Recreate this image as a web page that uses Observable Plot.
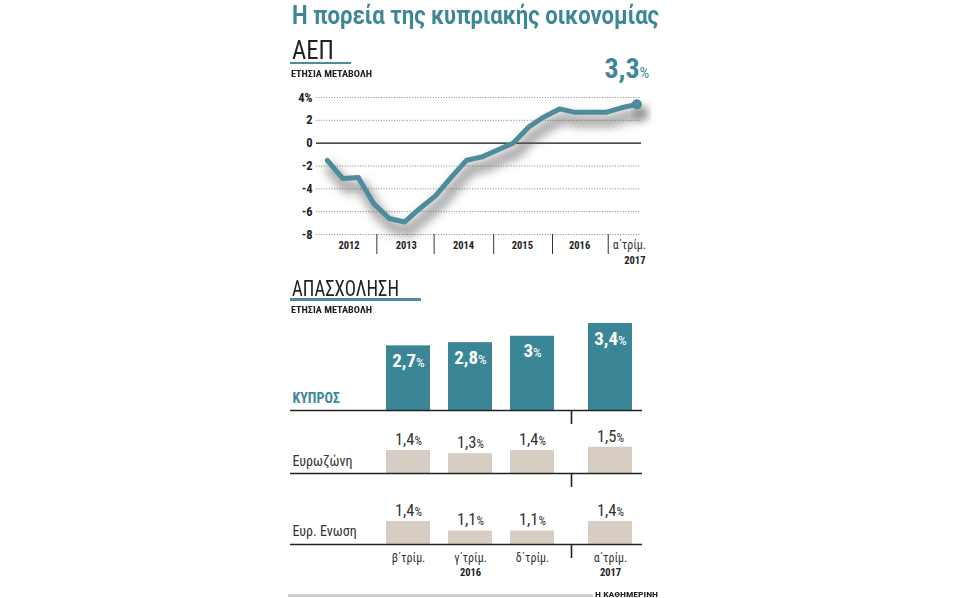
<!DOCTYPE html>
<html><head><meta charset="utf-8">
<script src="https://cdn.jsdelivr.net/npm/d3@7"></script>
<script src="https://cdn.jsdelivr.net/npm/@observablehq/plot@0.6"></script>
<style>
body{margin:0;background:#fff;}
#root{position:relative;width:958px;height:598px;overflow:hidden;}
.abs{position:absolute;white-space:nowrap;transform-origin:left top;line-height:1.15;}
svg{overflow:visible;}
</style></head><body><div id="root"></div>
<script>
// ---------- DATA ----------
const gdpGrowth = [-1.5, -3.1, -3.0, -5.3, -6.6, -6.9, -5.7, -4.6, -3.0, -1.5, -1.2, -0.6, 0.0, 1.4, 2.3, 3.0, 2.7, 2.7, 2.7, 3.1, 3.4];
const gdpYTicks = [4, 2, 0, -2, -4, -6, -8];
const gdpYearLabels = ["2012", "2013", "2014", "2015", "2016"];
const gdpYearLabelPos = [1.4, 5.1, 8.8, 12.6, 16.3];
const gdpYearSepPos = [3.2, 6.9, 10.75, 14.55, 18.15];
const gdpLastLabel = ["α΄τρίμ.", "2017"];
const gdpLatestText = "3,3";

const barQuarters = ["β΄τρίμ.", "γ΄τρίμ.", "δ΄τρίμ.", "α΄τρίμ."];
const barYears = [2016, 2016, 2016, 2017];
const barYearLabels = ["", "2016", "", "2017"];
const cyprus = [2.7, 2.8, 3.0, 3.4];
const eurozone = [1.4, 1.3, 1.4, 1.5];
const eu = [1.4, 1.1, 1.1, 1.4];
const rowNames = ["ΚΥΠΡΟΣ", "Ευρωζώνη", "Ευρ. Ενωση"];

// ---------- STYLE ----------
const FONT = '"Liberation Sans Narrow","Roboto Condensed",Roboto,sans-serif';
const C = {teal: "#3d8797", line: "#4e8c9d", bar: "#3b8696", beige: "#d8cdc3", ink: "#222"};
const root = document.getElementById("root");

function txt(s, o) {
  const el = document.createElement("div");
  el.className = "abs";
  el.textContent = s;
  Object.assign(el.style, {left: o.left + "px", top: o.top + "px", fontSize: o.size + "px",
    fontWeight: o.weight || "normal", color: o.color || C.ink, fontFamily: o.family || FONT});
  root.appendChild(el);
  if (o.width) {
    const w = el.getBoundingClientRect().width;
    el.style.transform = `scaleX(${o.width / w})`;
  }
  return el;
}
function box(l, t, w, h, c) {
  const el = document.createElement("div");
  el.className = "abs";
  Object.assign(el.style, {left: l + "px", top: t + "px", width: w + "px", height: h + "px", background: c});
  root.appendChild(el);
}
function place(svg, l, t) {
  svg.style.position = "absolute"; svg.style.left = l + "px"; svg.style.top = t + "px";
  root.appendChild(svg);
}
function pctify(svg, ratio) {
  d3.select(svg).selectAll("g.pct text").each(function () {
    const t = d3.select(this); const s = t.text(); t.text(s);
    t.append("tspan").attr("font-size", ratio + "em").attr("font-weight", "normal").text("%");
  });
}
const fmt = v => String(v).replace(".", ",");

// ---------- HEADINGS ----------
txt("Η πορεία της κυπριακής οικονομίας", {left: 291.5, top: 0.5, size: 25.5, weight: "bold", color: C.teal, width: 367, family: 'Roboto, "Liberation Sans", sans-serif'});
txt("ΑΕΠ", {left: 291.5, top: 36.5, size: 25, width: 42});
box(290, 61.5, 61, 2.5, C.line);
txt("ΕΤΗΣΙΑ ΜΕΤΑΒΟΛΗ", {left: 291, top: 68.8, size: 9, weight: "bold", width: 81});
txt("ΑΠΑΣΧΟΛΗΣΗ", {left: 291.5, top: 275.5, size: 22, width: 107});
box(290, 298, 131, 2.5, C.line);
txt("ΕΤΗΣΙΑ ΜΕΤΑΒΟΛΗ", {left: 291, top: 304.8, size: 9, weight: "bold", width: 81});
box(288, 593.5, 305, 3, "#cfcfcf");
txt("Η ΚΑΘΗΜΕΡΙΝΗ", {left: 595, top: 589.5, size: 8, weight: "bold", width: 63});

// ---------- GDP LINE ----------
const gdpData = gdpGrowth.map((v, i) => ({i, v}));
const last = gdpData[gdpData.length - 1];
const lineSvg = Plot.plot({
  width: 380, height: 190, marginLeft: 36, marginRight: 19, marginTop: 12, marginBottom: 41,
  style: {fontFamily: FONT, background: "transparent", overflow: "visible"},
  x: {domain: [-0.7, 20.3], axis: null, label: null},
  y: {domain: [-8, 4], axis: null, label: null},
  marks: [
    Plot.ruleY(gdpYTicks.filter(d => d !== 0), {stroke: "#777", strokeDasharray: "1,1.6", strokeWidth: 0.9}),
    Plot.ruleY([0], {stroke: "#111", strokeWidth: 1.4}),
    Plot.axisY(gdpYTicks, {anchor: "left", tickSize: 0, tickPadding: 4, label: null,
      tickFormat: d => d === 4 ? "4%" : String(d), fontSize: 12.5, fontWeight: "bold", fill: "#222"}),
    Plot.axisX(gdpYearSepPos, {anchor: "bottom", tickSize: 20, tickFormat: () => "", label: null, stroke: "#333"}),
    Plot.text(gdpYearLabels, {x: (d, i) => gdpYearLabelPos[i], text: d => d, frameAnchor: "bottom", dy: 14,
      fontSize: 10.5, fontWeight: "bold", fill: "#222"}),
    Plot.text([last], {x: "i", frameAnchor: "bottom", text: () => gdpLastLabel[0], dx: -7.5, dy: 14, fontSize: 12, fill: "#333"}),
    Plot.text([last], {x: "i", frameAnchor: "bottom", text: () => gdpLastLabel[1], dx: -2, dy: 29, fontSize: 10.5, fontWeight: "bold", fill: "#222"}),
    Plot.line(gdpData, {x: "i", y: "v", stroke: "#555", strokeWidth: 12, strokeOpacity: 0.5, dx: 4, dy: 9, className: "shadow"}),
    Plot.dot([last], {x: "i", y: "v", r: 7, fill: "#555", fillOpacity: 0.5, dx: 4, dy: 9, className: "shadow"}),
    Plot.line(gdpData, {x: "i", y: "v", stroke: C.line, strokeWidth: 5, strokeLinejoin: "round", strokeLinecap: "round"}),
    Plot.dot([last], {x: "i", y: "v", r: 5, fill: C.line}),
    Plot.text([last], {x: "i", y: "v", text: () => gdpLatestText, dx: -10, dy: -35, fontSize: 28, fontWeight: "bold", fill: C.teal, className: "pct"})
  ]
});
{
  const sv = d3.select(lineSvg);
  sv.insert("defs", ":first-child").html('<filter id="sh" x="-20%" y="-40%" width="140%" height="180%"><feGaussianBlur stdDeviation="5"/></filter>');
  sv.selectAll("g.shadow").attr("filter", "url(#sh)");
  pctify(lineSvg, 0.55);
}
place(lineSvg, 280, 85);

// ---------- EMPLOYMENT BARS ----------
const SLOT = 62, GAP = 16 / 62, HALF = 22 / 62, YBASE = 0.68, PXU = 32, FL = 290, FR = 642, SLOT0 = 408, ABOVE = 95;
const rowValues = [cyprus, eurozone, eu];
const rowBaselines = [410, 473.3, 544.3];
const rowNameDy = [-8, -8, -9];
rowValues.forEach((vals, r) => {
  const isLast = r === rowValues.length - 1;
  const inside = r === 0;
  const data = vals.map((v, i) => ({v, q: barQuarters[i], yl: barYearLabels[i], s: i + (barYears[i] === 2017 ? GAP : 0)}));
  const sep = (data[2].s + data[3].s) / 2;
  const mb = isLast ? 45 : 20;
  const marks = [
    Plot.rectY(data, {x1: d => d.s - HALF, x2: d => d.s + HALF, y1: YBASE, y2: "v", fill: inside ? C.bar : C.beige}),
    Plot.ruleY([YBASE], {stroke: "#222", strokeWidth: 1.4}),
    Plot.axisX([sep], {anchor: "bottom", tickSize: 14, tickFormat: () => "", label: null, stroke: "#222", strokeWidth: 1.6}),
    Plot.text(data, {x: "s", y: "v", text: d => fmt(d.v), dy: inside ? 15 : -11,
      fontSize: inside ? 19 : 16.5, fontWeight: inside ? "bold" : "normal", fill: inside ? "#fff" : "#333", className: "pct"}),
    Plot.text([rowNames[r]], {frameAnchor: "bottom-left", textAnchor: "start", text: d => d, dx: 2, dy: rowNameDy[r],
      fontSize: 14, fontWeight: inside ? "bold" : "normal", fill: inside ? C.teal : "#333"})
  ];
  if (isLast) {
    marks.push(
      Plot.text(data, {x: "s", text: "q", frameAnchor: "bottom", dy: 17.5, fontSize: 12, fill: "#333"}),
      Plot.text(data, {x: "s", text: "yl", frameAnchor: "bottom", dy: 31.5, fontSize: 10.5, fontWeight: "bold", fill: "#222"})
    );
  }
  const svg = Plot.plot({
    width: 380, height: ABOVE + mb, marginLeft: FL - 280, marginRight: 660 - FR, marginTop: 0, marginBottom: mb,
    style: {fontFamily: FONT, background: "transparent", overflow: "visible"},
    x: {domain: [(FL - SLOT0) / SLOT, (FR - SLOT0) / SLOT], axis: null, label: null},
    y: {domain: [YBASE, YBASE + ABOVE / PXU], axis: null, label: null},
    marks
  });
  pctify(svg, 0.72);
  place(svg, 280, rowBaselines[r] - ABOVE);
});
</script></body></html>
